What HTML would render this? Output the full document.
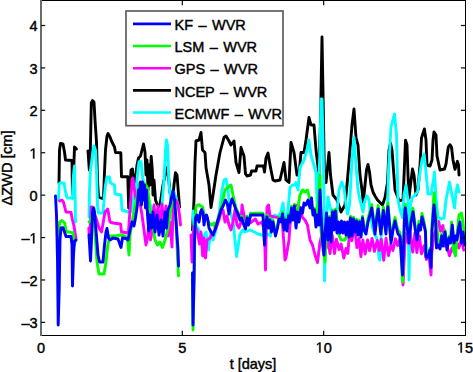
<!DOCTYPE html>
<html><head><meta charset="utf-8"><style>
html,body{margin:0;padding:0;background:#fff;}
body{width:473px;height:372px;overflow:hidden;position:relative;}
svg{position:absolute;left:0;top:0;}
text{font-family:"Liberation Sans",sans-serif;font-size:14.5px;fill:#000;stroke:#000;stroke-width:0.42px;}
</style></head><body>
<svg width="473" height="372" viewBox="0 0 473 372">
<rect x="0" y="0" width="473" height="372" fill="#fff"/>

<g fill="none" stroke-width="2.9" stroke-linejoin="round" stroke-linecap="round">
<polyline stroke="#000000" points="59,183 59.5,150 60.5,143.5 63,144 64.5,152 65.5,160 72,160.5 72.5,198 73.5,175 74.5,147 76.5,149"/>
<polyline stroke="#000000" points="88,151 89.3,170 90.3,152 91.3,103 92.5,100.5 94,102 95,120 96.5,142 97.5,180 98.5,197 103.5,199 104,185 104.5,172 105.5,150 107,136 108,133.5 110,137 111.5,141 113,144 114.5,147 115.5,152.5 120.8,152.7 121.5,176.8 127.8,176.8 128.7,208 129.8,190 131,170 132.5,169 134,183 135.5,180 137,165 138.5,158 140.5,156 142,150 143.5,144 145,152 146,175 147,160 148,190 149,165 150,185 151.2,156.4 152.3,170 153,195 154,180 155.5,200 157,204 159,207 160,205 163,185 166.8,167.6 168,172 170,192 172,205 174,185 175.5,172.7 177,175 179.5,207"/>
<polyline stroke="#000000" points="192.5,230 194,200 195,162.5 196,141 199,140 201,132.5 202.5,150 205,152.5 206,167.5 209,185 211,207.5 213,195 216,175 220,152.5 224,137.5 226,136 229,141 231,145 234,141 236,162.5 239,172.5 241,147.5 242.5,152 244,156 245.5,174 247,176 250.5,175 251.5,171 256,171 257,166 263.5,166 264.5,172 266,158 268,153 269.5,162 271,170 273,180 275,181 280,180 284,162.5 286,180 289,182.5 291,142.5 294,152.5 297,175 299,175 301,152.5 304,152.5 306,140 309,117.5 311,125 314,125 316,150 319,175 320.5,120 322,37 323.5,120 324.5,182.5 326,182.5 329,152.5 330.5,175 333,195 337,200 341,212 345,205 347,185 350,150 352,125 354,109 356,137.5 358,145 360,175 362,190 363.3,202 365,185 366.5,170 368,164.5 369.5,172 371,185 373,192 375,196 377.5,200 380,202.5 382.5,205 385,197.5 387.5,182.5 389,150 390.5,143 392,150 395,190 399,200.6 403,200 404.5,165 405.5,140.3 407,145 408,175 409,198 410.5,185 412.5,169 414,175 416,195 418,190 420,165 421.5,138 424.4,129 426,140 427,165 430,166 432,160 433,140 434,132 436,135 437,156 440,170 444.5,169 446,164 448.3,147 450,144.7 451.5,147 453,160 455,169.4 457.4,161.3 458.5,165 459,175"/>
<polyline stroke="#00ffff" points="58.6,200 59.2,184 60,183 64,183 65.5,192 67.2,198 72.3,198 73.5,175 74.5,166 75.2,200 75.5,222"/>
<polyline stroke="#00ffff" points="89,217 89.5,190 90.5,170 92.5,155 94,146 95.5,150 96.5,170 97.5,205 98.5,213 103,213 104,200 105.5,185 107,177 109.5,177 110.5,183 114.5,185 115,194 121,195 122,210 128,212 131,211.8 133,200 136,190 138,170 139,161.6 141,161.6 142.7,178 145,190 148.8,201 151,207 154.7,211 160,210 162,205 164,180 165.5,150 166.5,140 167.5,145 169,185 171,200 174,192 176,198 178,205 179,210"/>
<polyline stroke="#00ffff" points="193,211 194,227 196,225 199,230 202,240 204,235 206,232 208.4,250 210.8,232 213,240 216,230 219,215 222,190 224,180 226,179 228,190 230,210 233.4,224 236.6,256.5 239.8,235 242.5,230 245,232 250,230 254.3,232 258,234 262,235 266,236 268,234 270.4,236 271.5,218 274.7,215 278,217 281,212 283,203 286,230 288,210 290,187.5 292.5,185 295,185 296,182.5 298,190 300,167.5 304,160 307,150 309,140 311,155 313,162 316,172.5 317.5,217.5 318.5,190 320,150 321,99 322,99 323,140 324,200 324.5,281 325,260 326.5,220 328,197 329.5,205 331.5,212 333,225 335,225 337,212 339,190 341.8,182 344,188 346,205 347.5,214 349.5,205 352,160 354,137.5 356,165 358,190 360,200 361.5,206 363,212 365,200 367,196 369,200 370.5,214 372.5,227.5 375,235 377.5,240 379,258 380,260 381,240 382.5,215 385,222.5 387.5,210 388.5,170 391,127 394.5,114 396.5,135 398,200 400,210 402.5,217.5 404,195 406,185 408,200 409,280 410.5,205 412.5,197.5 415,195 417.5,192 420,172.5 422,160 424,154 426,172 428,194 431,194 433.5,180 434.5,172 436,198 438,217.5 441,219 444,218 446,200 448,190 449.5,182 451,190 454.6,208 456,192 457.5,185 459,192"/>
<polyline stroke="#ff00ff" points="59.6,201 62,200 63.4,202 66,212 71,212.4 72.5,220 74,226 76,239"/>
<polyline stroke="#ff00ff" points="88.8,228 89.5,240 91.3,207 92.5,207 94,213 96,218 99,228 101.5,232 102.6,226 105,212 107.7,209 110,222 113,223 120.6,224 121.5,232 128.4,233 130,210 131,197.5 132,180 133,178 134,187 136,200 140,203 142,215 144,230 146,245 148,235 149,212 150.5,240 152,232 154,205 156,225 158,206 160,232 162,204 164,228 166,206 168,236 170,222 172,247 173,210 174,204 176,200 178,205 179.5,215 180.5,225"/>
<polyline stroke="#ff00ff" points="191,235 192,262 193.5,228 195,226 197,230 199.5,244 201,232 202.7,256 204,238 205.5,258 207,240 210,238 213,233 216,228 219,220 221,212 223,210 225,222 227,216 229,225 231,230 233,222 235,210 237,225 239,228 241,222 242,205 244,215 246,225 250,223 255.4,219 258,224 262,222 264,230 265,250 265.5,270 266,240 267,207 268.5,205 270,216 274.7,217 282,218 284,245 285,260 286,257.5 289,240 290,225 292.5,207.5 297.5,205 300,207.5 302.5,217.5 305,220 307.5,225 310,240 312.5,245 315,255 317.5,262.5 320,242 322.5,232.5 324,237.8 325.95,248.7 327.82,238.2 329.99,253.6 332.3,235.2 334.53,253.6 336.42,239.1 339.05,249.7 341.07,244.1 343.82,258 346.02,248.4 347.86,253.4 349.95,226.8 351.87,240.7 354.49,223.7 356.87,247.6 359.04,238.4 360.9,256.5 362.91,239.9 365.14,254 367.52,240 369.62,250.7 372.12,238.4 374.49,251.4 377.17,240.6 379.26,250.5 381.18,239.3 383.73,260.2 386.02,238.3 388.49,255.6 390.86,244.3 392.98,250.4 395.37,238.8 397.63,245.6 400.37,237.5 402.84,247.4 403,285 405.34,233.5 408.13,242.9 410.22,233.2 412.68,252.1 414.95,232.6 416.86,252.6 419.43,236 421.48,253.7 424.15,245.8 426.4,259.5 429.08,256.9 431,275 431.75,253.4 433.96,235.5 436.65,228.5 438.6,221.4 440.63,231.2 442.91,225.5 444.98,246.2 447.2,247 449.56,255.8 452.05,247.9 454.47,252.7 456.32,241.1 458.9,248.1 461.5,238.8 463.7,250"/>
<polyline stroke="#00ff00" points="58.5,240 59.6,222 62,220.5 64.7,223 66,231.5 73,232.7 74,245 76,240"/>
<polyline stroke="#00ff00" points="89,222 91,220 92.5,213 94,208 95,232.7 97,262 99,274 104,274 106,262 107.8,245 110,236 115,236 120,235 125,236 127.5,238 129,255 130,235 132.5,220 135,205 137.5,195 139.5,183 142,182 145,184 147.5,188 150,208 152.5,222 155,240 157.5,245 160,242 162.5,247.5 165,240 167.5,230 170,215 172.5,197 175,205 176.5,235 178.5,276"/>
<polyline stroke="#00ff00" points="192.5,280 193,330 194,285 195,230 196,206 199,204.7 202.6,207 204,214 207,218 209,223 212,225 214,223 215,228.2 218,218.2 221,208.2 222,204 225,190 228,187 231,185 233,195 236,208.2 238,212.2 240,218.2 241.6,216.2 243.5,222.2 245.5,227.2 247,216.2 248.5,223.2 250.6,213.2 255,213.2 260,213.2 263,213.2 264.5,243.2 265.5,223.2 267,215.2 268.5,226.2 270,218.2 271.5,230.2 273,220.2 275.5,234.2 277.5,226.2 279,217.2 281,220.2 282.5,212.2 284,228.2 285.5,218.2 287,229.2 288.5,214.2 290,220.2 291.5,206.2 293,218.2 294.5,204.2 296,226.2 297.5,210.2 300,195 302.5,190 305,192 307.5,190 310,200 313,213.2 314.5,208.2 316,225.2 317.5,213.2 320,175 321,230 323,250 325,262 326,240 329.5,216.2 331,240.2 332.5,210.2 334,228.2 335.5,209.2 339,235 341,240 345,240 347,235 349,225 350.5,216.2 352,234.2 353.5,217.2 355,230.2 356.5,219.2 358,233.2 359.5,220.2 361,235.2 362.5,216.2 364,226.5 366,230.5 368,218.5 370,211.5 371.7,204.5 373.5,218.5 375,230.5 376.5,216.5 378.2,205.5 379.5,218.5 380.8,230.5 382,218.5 383.4,207 384.8,221.5 386,230.5 387,211.5 387.9,203.1 389.5,221.5 391,239.5 393,226.5 395,217.5 396.5,224.5 398,230.5 400,232.5 402.5,282 403.5,250 405,207 405.3,204.5 407,221.5 409,239.5 411,218.5 413,208.3 415,224.5 417,236.5 419,221.5 420.5,226.5 422,213.5 424,221.5 425.5,230.2 426,255.2 428.5,255.2 430,248.2 431,262 432,225 434,193 435.5,210 438.3,243.2 440,247.2 441.7,234.2 443,244.2 445,230.2 447,248.2 449,236.2 450.5,241.2 451.5,222 453.5,250 455.5,256 457.5,230 459,215 461.5,213 463,222 464.8,243.2"/>
<polyline stroke="#0000ff" points="55.5,196 56.5,215 57.5,260 58.2,325 59.2,290 60,240 61,228 63,227.6 66,236.5 71,236.5 72,245 72.5,286 73.5,255 74.5,241 76,240"/>
<polyline stroke="#0000ff" points="89,235 90.5,261 91.5,240 92.5,212.5 93.5,208 94.5,212 96,230 98,255 99.5,262 103,262 104.5,245 106,232 107,228.4 108.5,238 110,240 113,238 118,239 121,247.5 122.5,238 126,238.5 128,240 130,230 132,222 134,226 135.5,218 137.4,205 138.5,190 139.5,200 140.5,182 141.5,205 142.5,182 143.5,200 144.5,185 145.5,208 146.5,190 147.5,215 148.8,231 150,215 151.5,228 153,212 155,232 157,215 159,235 161,220 163,236 165,212 166.5,228 168,210 170,205 172,195 173,191 174.5,200 176,220 177,235 178,250 178.5,266"/>
<polyline stroke="#0000ff" points="192.5,273 193,325 194,280 194.5,240 195.5,218 197,215 199,222 200.5,212 201.6,209.6 203,213 204,225 205,218 206.5,215 207.5,218 209,228 211,232 213.2,235 215,230 218,220 221,210 223.5,205 225.5,200 227.4,204 229,214 230.5,204 232,199 234,204 236,210 238,214 240,220 241.6,218 243.5,224 245.5,229 247,218 248.5,225 250.6,215 255,215 260,215 263,215 264.5,245 265.5,225 267,217 268.5,228 270,220 271.5,232 273,222 275.5,236 277.5,228 279,219 281,222 282.5,214 284,230 285.5,220 287,231 288.5,216 290,222 291.5,208 293,220 294.5,206 296,228 297.5,212 299,222 301,208 302.5,213 304,203 306,205 308,200 310,208 311.5,198 313,215 314.5,210 316,227 317.5,215 319,225 320,190 321,212 322.5,240 324,255 325,235 326.5,213 328,240 329.5,218 331,242 332.5,212 334,230 335.5,211 337,233 338.5,222 340,233 341.5,221 343,233 344.5,222 346,235 347.5,222 349,237 350.5,218 352,236 353.5,219 355,232 356.5,221 358,235 359.5,222 361,237 362.5,218 364,230 366,234 368,222 370,215 371.7,208 373.5,222 375,234 376.5,220 378.2,209 379.5,222 380.8,234 382,222 383.4,210.5 384.8,225 386,234 387,215 387.9,206.6 389.5,225 391,243 393,230 395,221 396.5,228 398,234 400,236 402.5,275 403.5,250 404.5,215 405.3,208 407,225 409,243 411,222 413,211.8 415,228 417,240 419,225 420.5,230 422,217 424,225 425.5,232 426,257 428.5,257 430,250 431,267.5 432,230 434,205 435.5,220 436.5,248 438.3,245 440,249 441.7,236 443,246 445,232 447,250 449,238 450.5,243 452.3,225 454,243 455.5,236 457,240 458.5,228 460,222 461.5,243 463,232 464.8,245"/>
</g>
<g stroke="#000" stroke-width="1" fill="none" shape-rendering="crispEdges">
<line x1="41" y1="0.5" x2="465.5" y2="0.5"/>
<line x1="41" y1="335.5" x2="466" y2="335.5"/>
<line x1="465.5" y1="0" x2="465.5" y2="336"/>
</g>
<rect x="40" y="0" width="2" height="336" fill="#6a6a6a"/>
<g stroke="#111" stroke-width="1.25">
<line x1="41" y1="322.38" x2="45.2" y2="322.38"/><line x1="460.9" y1="322.38" x2="465" y2="322.38"/>
<line x1="41" y1="279.97" x2="45.2" y2="279.97"/><line x1="460.9" y1="279.97" x2="465" y2="279.97"/>
<line x1="41" y1="237.56" x2="45.2" y2="237.56"/><line x1="460.9" y1="237.56" x2="465" y2="237.56"/>
<line x1="41" y1="195.15" x2="45.2" y2="195.15"/><line x1="460.9" y1="195.15" x2="465" y2="195.15"/>
<line x1="41" y1="152.74" x2="45.2" y2="152.74"/><line x1="460.9" y1="152.74" x2="465" y2="152.74"/>
<line x1="41" y1="110.33" x2="45.2" y2="110.33"/><line x1="460.9" y1="110.33" x2="465" y2="110.33"/>
<line x1="41" y1="67.92" x2="45.2" y2="67.92"/><line x1="460.9" y1="67.92" x2="465" y2="67.92"/>
<line x1="41" y1="25.51" x2="45.2" y2="25.51"/><line x1="460.9" y1="25.51" x2="465" y2="25.51"/>
<line x1="182.33" y1="335" x2="182.33" y2="330.8"/><line x1="182.33" y1="1" x2="182.33" y2="5.2"/>
<line x1="323.67" y1="335" x2="323.67" y2="330.8"/><line x1="323.67" y1="1" x2="323.67" y2="5.2"/>
</g>
<defs><path id="one" d="M515,0 L696,0 L696,1409 L530,1409 L197,1180 L197,1010 L515,1237 Z" fill="#000" stroke="#000" stroke-width="50"/></defs>
<text x="21.38" y="328.19">–</text><text x="29.44" y="328.19">3</text>
<text x="21.38" y="285.76">–</text><text x="29.44" y="285.76">2</text>
<text x="21.38" y="243.33">–</text><use href="#one" transform="translate(29.44,243.33) scale(0.007080,-0.007080)"/>
<text x="29.44" y="200.90">0</text>
<use href="#one" transform="translate(29.44,158.47) scale(0.007080,-0.007080)"/>
<text x="29.44" y="116.04">2</text>
<text x="29.44" y="73.61">3</text>
<text x="29.44" y="31.18">4</text>
<text x="36.97" y="352.50">0</text>
<text x="178.30" y="352.50">5</text>
<use href="#one" transform="translate(315.60,352.50) scale(0.007080,-0.007080)"/><text x="323.67" y="352.50">0</text>
<use href="#one" transform="translate(456.94,352.50) scale(0.007080,-0.007080)"/><text x="465.00" y="352.50">5</text>
<text x="253" y="369" text-anchor="middle">t [days]</text>
<text transform="translate(11.6,168) rotate(-90)" text-anchor="middle" style="font-size:14.7px">ΔZWD [cm]</text>
<rect x="126" y="11" width="157" height="114.7" fill="#fff" stroke="#5e5e5e" stroke-width="1.7"/>
<line x1="133" y1="23.9" x2="171" y2="23.9" stroke="#0000ff" stroke-width="2.6"/>
<text x="174.5" y="30.1" style="word-spacing:1.4px">KF – WVR</text>
<line x1="133" y1="46.05" x2="171" y2="46.05" stroke="#00ff00" stroke-width="2.6"/>
<text x="174.5" y="52.2" style="word-spacing:1.4px">LSM – WVR</text>
<line x1="133" y1="68.19999999999999" x2="171" y2="68.19999999999999" stroke="#ff00ff" stroke-width="2.6"/>
<text x="174.5" y="74.4" style="word-spacing:1.4px">GPS – WVR</text>
<line x1="133" y1="90.35" x2="171" y2="90.35" stroke="#000000" stroke-width="2.6"/>
<text x="174.5" y="96.5" style="word-spacing:1.4px">NCEP – WVR</text>
<line x1="133" y1="112.5" x2="171" y2="112.5" stroke="#00ffff" stroke-width="2.6"/>
<text x="174.5" y="118.7" style="word-spacing:1.4px">ECMWF – WVR</text>
</svg></body></html>
